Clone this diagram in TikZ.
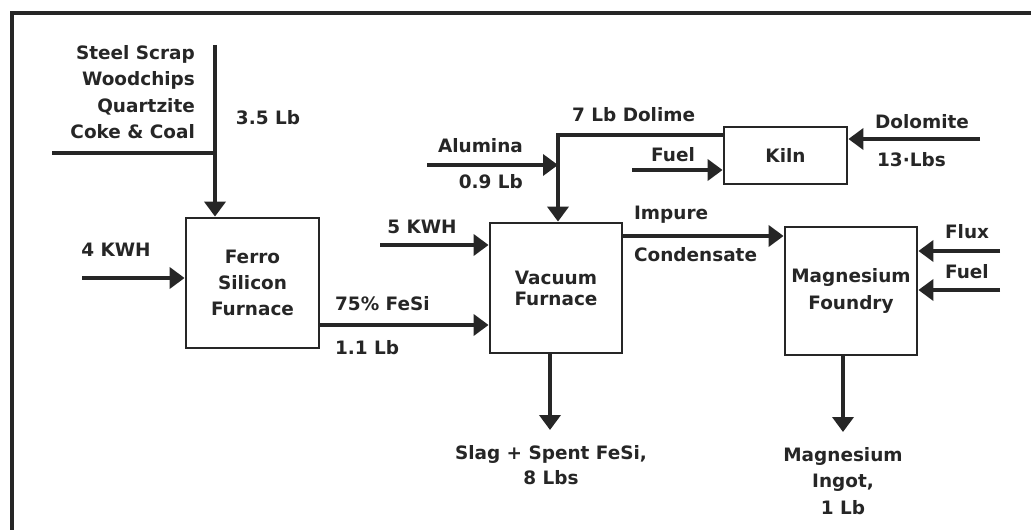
\documentclass[tikz,border=0pt]{standalone}
\usepackage{fontspec}
\setmainfont{DejaVu Sans}
\usetikzlibrary{arrows.meta, positioning, calc}

\begin{document}
\begin{tikzpicture}[
        x=0.02cm, y=-0.02cm,
        unit/.style={rectangle, draw=black!85, line width=1.6pt, align=center, font=\fontsize{10.5}{15}\selectfont\bfseries, inner sep=2pt, text=black!85},
        note/.style={font=\fontsize{10.5}{15}\selectfont\bfseries, inner sep=1pt, text=black!85},
        flow/.style={-{Triangle[width=0.42cm, length=0.3cm]}, line width=2.6pt, draw=black!85},
        pipe/.style={line width=2.6pt, draw=black!85}
    ]
        \useasboundingbox (0,0) rectangle (1031,530);
        \draw[pipe] (12,530) -- (12,13) -- (1031,13);

        \node[unit, minimum width=2.66cm, minimum height=2.6cm] (ferro) at (252.5,283) {Ferro\\Silicon\\Furnace};
        \node[unit, minimum width=2.64cm, minimum height=2.6cm, font=\fontsize{10.5}{12}\selectfont\bfseries] (vacuum) at (556,288) {Vacuum\\Furnace};
        \node[unit, minimum width=2.46cm, minimum height=1.14cm] (kiln) at (785.5,155.5) {Kiln};
        \node[unit, minimum width=2.64cm, minimum height=2.56cm] (foundry) at (851,291) {Magnesium\\Foundry};

        \node[note, anchor=east, align=right] (feedtxt) at (197,92) {Steel Scrap\\Woodchips\\Quartzite\\Coke \& Coal};
        \node[note] (feedqty) at (268,118) {3.5 Lb};
        \node[note] (kwh4txt) at (116,250) {4 KWH};
        \node[note, anchor=west] (fesitxt) at (333,304) {75\% FeSi};
        \node[note, anchor=west] (fesiqty) at (333,348) {1.1 Lb};
        \node[note] (kwh5txt) at (422,227) {5 KWH};
        \node[note, anchor=east] (alumtxt) at (525,146) {Alumina};
        \node[note, anchor=east] (alumqty) at (525,182) {0.9 Lb};
        \node[note, anchor=west] (dolimetxt) at (570,115) {7 Lb Dolime};
        \node[note] (kfueltxt) at (673,155) {Fuel};
        \node[note, anchor=west] (dolotxt) at (873,122) {Dolomite};
        \node[note, anchor=west] (doloqty) at (875,160) {13·Lbs};
        \node[note, anchor=west] (impuretxt) at (632,215) {Impure};
        \node[note, anchor=west] (condtxt) at (632,255) {Condensate};
        \node[note, anchor=west] (fluxtxt) at (943,232) {Flux};
        \node[note, anchor=west] (ffueltxt) at (943,272) {Fuel};
        \node[note, align=center, font=\fontsize{10.5}{14}\selectfont\bfseries] (slagtxt) at (551,465) {Slag + Spent FeSi,\\8 Lbs};
        \node[note, align=center] (ingottxt) at (843,481) {Magnesium\\Ingot,\\1 Lb};

        \coordinate (feedtop) at (215,45);
        \coordinate (feedleft) at (52,153);
        \coordinate (kwh4) at (82,278);
        \coordinate (kwh5) at (380,245);
        \coordinate (fesi) at (400,325);
        \coordinate (dolbend) at (558,135);
        \coordinate (alum) at (427,165);
        \coordinate (kfuel) at (632,170);
        \coordinate (dolo) at (980,139);
        \coordinate (cond) at (700,236);
        \coordinate (flux) at (1000,251);
        \coordinate (ffuel) at (1000,290);
        \coordinate (slagend) at (550,430);
        \coordinate (ingotend) at (843,432);

        \draw[pipe] (feedleft) -- (feedleft -| feedtop);
        \draw[flow] (feedtop) -- (feedtop |- ferro.north);
        \draw[flow] (kwh4) -- (kwh4 -| ferro.west);
        \draw[flow] (ferro.east |- fesi) -- (vacuum.west |- fesi);
        \draw[flow] (kwh5) -- (kwh5 -| vacuum.west);
        \draw[flow] (kiln.west |- dolbend) -- (dolbend) -- (dolbend |- vacuum.north);
        \draw[flow] (alum) -- (alum -| dolbend);
        \draw[flow] (kfuel) -- (kfuel -| kiln.west);
        \draw[flow] (dolo) -- (dolo -| kiln.east);
        \draw[flow] (vacuum.east |- cond) -- (foundry.west |- cond);
        \draw[flow] (flux) -- (flux -| foundry.east);
        \draw[flow] (ffuel) -- (ffuel -| foundry.east);
        \draw[flow] (slagend |- vacuum.south) -- (slagend);
        \draw[flow] (ingotend |- foundry.south) -- (ingotend);
    \end{tikzpicture}
\end{document}
